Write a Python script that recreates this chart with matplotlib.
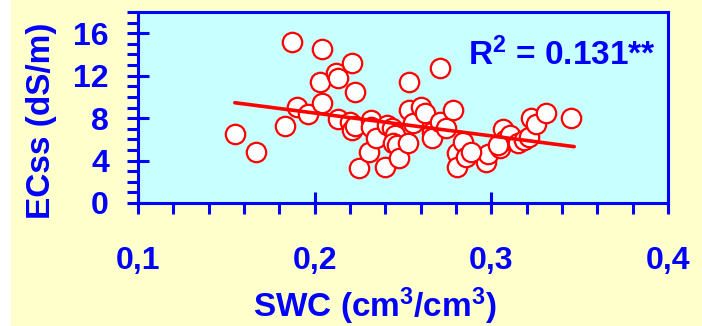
import matplotlib
matplotlib.use("Agg")
import matplotlib.pyplot as plt
from matplotlib.patches import Rectangle
from matplotlib.ticker import MultipleLocator

plt.rcParams['font.family'] = ['Liberation Sans', 'DejaVu Sans']
plt.rcParams['font.weight'] = 'bold'
plt.rcParams['mathtext.fontset'] = 'custom'
plt.rcParams['mathtext.rm'] = 'Liberation Sans:bold'
plt.rcParams['mathtext.bf'] = 'Liberation Sans:bold'
plt.rcParams['mathtext.it'] = 'Liberation Sans:bold'
plt.rcParams['mathtext.default'] = 'rm'

# ---- data ----
swc = [0.155, 0.167, 0.183, 0.187, 0.190, 0.196, 0.204, 0.203, 0.204, 0.212,
       0.213, 0.213, 0.221, 0.223, 0.220, 0.221, 0.223, 0.225, 0.231, 0.232,
       0.232, 0.235, 0.240, 0.241, 0.244, 0.2455, 0.2446, 0.2465, 0.2475, 0.2531,
       0.2535, 0.2535, 0.2559, 0.2602, 0.2625, 0.2662, 0.2662, 0.2709, 0.2709, 0.2746,
       0.2784, 0.2803, 0.2807, 0.284, 0.2859, 0.2972, 0.2981, 0.3047, 0.3066, 0.3075,
       0.3103, 0.315, 0.3187, 0.3216, 0.3225, 0.3253, 0.3309, 0.345, 0.3037, 0.2887]
ecss = [6.47, 4.84, 7.30, 15.2, 9.05, 8.37, 14.55, 11.43, 9.42, 12.28,
        11.75, 7.9, 13.17, 10.43, 7.66, 6.88, 7.3, 3.27, 4.84, 7.82,
        7.19, 6.1, 3.35, 7.35, 7.1, 6.41, 5.63, 5.47, 4.21, 5.63,
        11.43, 8.77, 7.51, 9.08, 8.45, 6.72, 6.1, 12.69, 7.66, 7.04,
        8.8, 4.68, 3.42, 5.78, 4.37, 3.89, 4.6, 5.16, 6.95, 5.94,
        6.41, 5.7, 5.94, 6.2, 8.0, 7.4, 8.45, 7.98, 5.47, 4.84]
fit_x = [0.1548, 0.3469]
fit_y = [9.45, 5.31]
r2_text = r'R$^{2}$ = 0.131**'
xticks = [0.1, 0.2, 0.3, 0.4]
xtick_labels = ['0,1', '0,2', '0,3', '0,4']
yticks = [0, 4, 8, 12, 16]
ytick_labels = ['0', '4', '8', '12', '16']
xlabel = r'SWC (cm$^{3}$/cm$^{3}$)'
ylabel = 'ECss (dS/m)'

BLUE = '#0000FF'
RED = '#FF0000'

W, H = 702, 326
fig = plt.figure(figsize=(W / 100, H / 100), dpi=100, facecolor='#FFFFCC')
fig.patches.append(Rectangle((0, 0), 11 / W, 1, transform=fig.transFigure,
                             facecolor='white', edgecolor='none', zorder=-10))

L, R, T, B = 138, 668, 12, 203
ax = fig.add_axes([L / W, 1 - B / H, (R - L) / W, (B - T) / H])
ax.set_facecolor('#C8FFFF')

ax.plot(swc, ecss, 'o', ms=14, mfc='white', mec=RED, mew=1.6, zorder=2, clip_on=False)
ax.plot(fit_x, fit_y, color=RED, lw=2.6, zorder=3, solid_capstyle='round')

ax.set_xlim(0.1, 0.4)
ax.set_ylim(0, 18)
ax.set_xticks(xticks, xtick_labels)
ax.set_yticks(yticks, ytick_labels)
ax.xaxis.set_minor_locator(MultipleLocator(0.02))
ax.yaxis.set_minor_locator(MultipleLocator(1))

for s in ax.spines.values():
    s.set_color(BLUE)
    s.set_linewidth(2.2)

ax.tick_params(which='major', direction='inout', length=16, width=2.2, color=BLUE,
               labelcolor=BLUE, labelsize=23)
ax.tick_params(axis='x', which='major', pad=23)
ax.tick_params(axis='y', which='major', pad=13)
ax.tick_params(which='minor', direction='out', length=8, width=2.2, color=BLUE)
for lab in ax.get_xticklabels() + ax.get_yticklabels():
    lab.set_fontweight('bold')

ax.text(0.6226, 0.7225, r2_text, transform=ax.transAxes, color=BLUE, fontsize=24,
        fontweight='bold', ha='left', va='baseline')

fig.text(374.5 / W, 1 - 317 / H, xlabel, color=BLUE, fontsize=24, fontweight='bold',
         ha='center', va='baseline')
fig.text(42 / W, 1 - 121 / H, ylabel, color=BLUE, fontsize=24, fontweight='bold',
         ha='center', va='center', rotation=90)

fig.savefig('out.png', dpi=100, facecolor=fig.get_facecolor())
